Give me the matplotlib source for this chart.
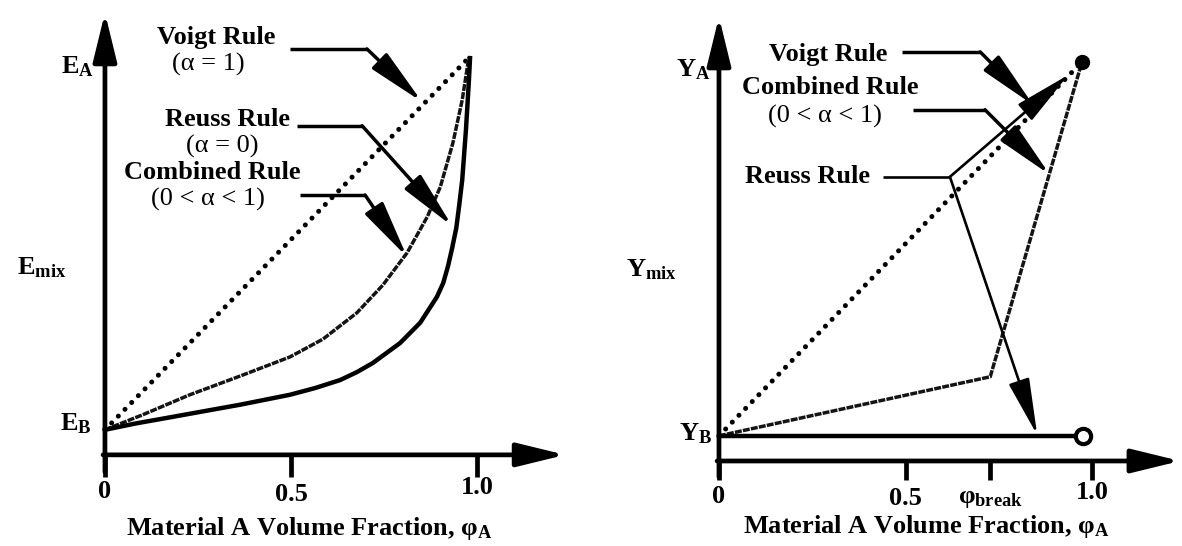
import numpy as np
import matplotlib.pyplot as plt

plt.rcParams['font.family'] = ['Liberation Serif', 'DejaVu Serif']
plt.rcParams['font.weight'] = 'bold'
plt.rcParams['mathtext.fontset'] = 'custom'
plt.rcParams['mathtext.rm'] = 'Liberation Serif:bold'
plt.rcParams['mathtext.bf'] = 'Liberation Serif:bold'
plt.rcParams['mathtext.it'] = 'Liberation Serif:bold'

FS = 19

# --- modulus of the blend (normalised, E_A = 1) ---
E_B = 0.063
E_A = 1.0
voigt_phi = [0.0, 0.98]
voigt_E = [E_B, E_A]
reuss_phi = [0.0, 0.083, 0.167, 0.250, 0.363, 0.497, 0.565, 0.632, 0.677,
             0.720, 0.793, 0.847, 0.892, 0.909, 0.922, 0.933, 0.944, 0.952,
             0.960, 0.965, 0.970, 0.974, 0.978, 0.981]
reuss_E = [0.063, 0.079, 0.093, 0.107, 0.126, 0.151, 0.168, 0.188, 0.208,
           0.231, 0.281, 0.332, 0.397, 0.432, 0.475, 0.520, 0.570, 0.628,
           0.691, 0.754, 0.817, 0.879, 0.942, 0.997]
comb_phi = [0.0, 0.102, 0.228, 0.363, 0.497, 0.586, 0.677, 0.747, 0.812,
            0.866, 0.901, 0.935, 0.960, 0.978]
comb_E = [0.063, 0.101, 0.151, 0.198, 0.246, 0.291, 0.357, 0.427, 0.508,
          0.598, 0.673, 0.784, 0.892, 1.0]

# --- yield strength of the blend (normalised, Y_A = 1) ---
Y_B = 0.063
Y_A = 1.0
phi_break = 0.727
y_voigt_phi = [0.0, 0.973]
y_voigt = [Y_B, Y_A]
y_comb_phi = [0.0, phi_break, 0.973]
y_comb = [Y_B, 0.211, Y_A]
y_reuss_phi = [0.0, 0.975]
y_reuss = [Y_B, Y_B]

left_ticks = [0.0, 0.5, 1.0]
left_ticklabels = ['0', '0.5', '1.0']
right_ticks = [0.0, 0.5, phi_break, 1.0]
right_ticklabels = ['0', '0.5', r'$\mathbf{φ_{break}}$', '1.0']
xlabel = r'Material A Volume Fraction, $\mathbf{φ_A}$'

HEAD = '-|>,head_length=1.6,head_width=0.3'


def axis_arrow(ax, start, tip):
    ax.annotate('', xy=tip, xytext=start,
                arrowprops=dict(arrowstyle='-|>,head_length=1.35,head_width=0.33',
                                mutation_scale=22, lw=3.4, color='k',
                                shrinkA=0, shrinkB=0))


def leader(ax, pts, tip, lw=2.5):
    xs = [p[0] for p in pts]
    ys = [p[1] for p in pts]
    ax.plot(xs, ys, color='k', lw=lw, solid_capstyle='butt')
    ax.annotate('', xy=tip, xytext=pts[-1],
                arrowprops=dict(arrowstyle=HEAD, mutation_scale=22, lw=lw,
                                color='k', shrinkA=0, shrinkB=0))


fig = plt.figure(figsize=(11.82, 5.46), dpi=100)
axl = fig.add_axes([0, 0, 0.5, 1])
axr = fig.add_axes([0.5, 0, 0.5, 1])
axl.set_xlim(-0.282, 1.306)
axl.set_ylim(-0.229, 1.143)
axr.set_xlim(-0.343, 1.241)
axr.set_ylim(-0.213, 1.155)
for ax in (axl, axr):
    ax.axis('off')

# ---------------- left: modulus ----------------
ax = axl
axis_arrow(ax, (0, -0.043), (0, 1.111))
axis_arrow(ax, (-0.005, 0), (1.237, 0))
for t, lab, ty in zip(left_ticks, left_ticklabels, [-0.093, -0.10, -0.083]):
    ax.plot([t, t], [0, -0.055], color='k', lw=3.4, solid_capstyle='butt')
    ax.text(t, ty, lab, ha='center', va='center', fontsize=FS)
ax.text(0.548, -0.186, xlabel, ha='center', va='center', fontsize=FS)
ax.text(-0.073, 0.975, r'$\mathbf{E_A}$', ha='center', va='center', fontsize=FS)
ax.text(-0.078, 0.078, r'$\mathbf{E_B}$', ha='center', va='center', fontsize=FS)
ax.text(-0.169, 0.47, r'$\mathbf{E_{mix}}$', ha='center', va='center', fontsize=FS)

ax.plot(voigt_phi, voigt_E, color='k', lw=3.6, linestyle=(0, (0.01, 1.9)),
        dash_capstyle='round')
ax.plot(comb_phi, comb_E, color='#141414', lw=2.5, linestyle=(0, (2.0, 0.35)))
ax.plot(reuss_phi, reuss_E, color='k', lw=3.2, solid_joinstyle='round')

ax.text(0.298, 1.050, 'Voigt Rule', ha='center', va='center', fontsize=FS)
ax.text(0.277, 0.980, '(α = 1)', ha='center', va='center', fontsize=FS,
        fontweight='normal')
ax.text(0.328, 0.842, 'Reuss Rule', ha='center', va='center', fontsize=FS)
ax.text(0.315, 0.774, '(α = 0)', ha='center', va='center', fontsize=FS,
        fontweight='normal')
ax.text(0.288, 0.709, 'Combined Rule', ha='center', va='center', fontsize=FS)
ax.text(0.277, 0.641, '(0 < α < 1)', ha='center', va='center', fontsize=FS,
        fontweight='normal')

leader(ax, [(0.497, 1.020), (0.704, 1.020)], (0.852, 0.887))
leader(ax, [(0.516, 0.827), (0.691, 0.827)], (0.933, 0.575))
leader(ax, [(0.524, 0.653), (0.699, 0.653)], (0.812, 0.497))

# ---------------- right: yield strength ----------------
ax = axr
axis_arrow(ax, (0, -0.04), (0, 1.113))
axis_arrow(ax, (-0.005, 0), (1.236, 0))
for t, lab, ty in zip(right_ticks, right_ticklabels, [-0.09, -0.093, -0.095, -0.078]):
    ax.plot([t, t], [0, -0.048], color='k', lw=3.4, solid_capstyle='butt')
    ax.text(t, ty, lab, ha='center', va='center', fontsize=FS)
ax.text(0.555, -0.163, xlabel, ha='center', va='center', fontsize=FS)
ax.text(-0.07, 0.98, r'$\mathbf{Y_A}$', ha='center', va='center', fontsize=FS)
ax.text(-0.064, 0.068, r'$\mathbf{Y_B}$', ha='center', va='center', fontsize=FS)
ax.text(-0.182, 0.48, r'$\mathbf{Y_{mix}}$', ha='center', va='center', fontsize=FS)

ax.plot(y_voigt_phi, y_voigt, color='k', lw=3.6, linestyle=(0, (0.01, 1.9)),
        dash_capstyle='round')
ax.plot(y_comb_phi, y_comb, color='#141414', lw=2.5, linestyle=(0, (2.0, 0.35)))
ax.plot(y_reuss_phi, y_reuss, color='k', lw=3.2)
ax.plot(y_reuss_phi[-1], Y_B, 'o', ms=11, mfc='white', mec='k', mew=3)
ax.plot(y_voigt_phi[-1], Y_A, 'o', ms=10, color='k')

ax.text(0.292, 1.018, 'Voigt Rule', ha='center', va='center', fontsize=FS)
ax.text(0.298, 0.935, 'Combined Rule', ha='center', va='center', fontsize=FS)
ax.text(0.284, 0.862, '(0 < α < 1)', ha='center', va='center', fontsize=FS,
        fontweight='normal')
ax.text(0.236, 0.712, 'Reuss Rule', ha='center', va='center', fontsize=FS)

leader(ax, [(0.491, 1.025), (0.700, 1.025)], (0.842, 0.892))
leader(ax, [(0.520, 0.880), (0.713, 0.880)], (0.887, 0.717))
leader(ax, [(0.440, 0.712), (0.619, 0.712)], (0.853, 0.065), lw=1.9)
ax.annotate('', xy=(0.936, 0.967), xytext=(0.619, 0.712),
            arrowprops=dict(arrowstyle=HEAD, mutation_scale=22, lw=1.9,
                            color='k', shrinkA=0, shrinkB=0))

fig.savefig('out.png', dpi=100)
